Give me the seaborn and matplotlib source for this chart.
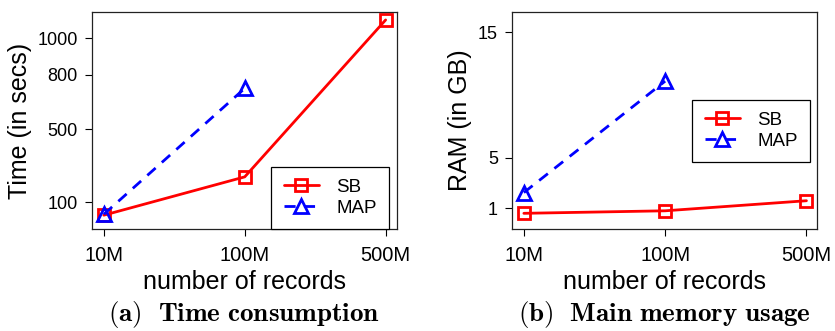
import numpy as np
import pandas as pd
import matplotlib
matplotlib.use("Agg")
import matplotlib.pyplot as plt
import seaborn as sns

# Dados
records = ["10M", "100M", "500M"]
sb_time = [30, 240, 1100]
map_time = [35, 725]
sb_ram = [0.6, 0.8, 1.6]
map_ram = [2.25, 11.1]

time_ticks = [100, 500, 800, 1000]
ram_ticks = [1, 5, 15]

sns.set_style("ticks")
plt.rcParams["font.family"] = ["Liberation Sans", "DejaVu Sans"]
plt.rcParams["mathtext.fontset"] = "cm"
plt.rcParams["text.color"] = "black"
plt.rcParams["axes.labelcolor"] = "black"
plt.rcParams["xtick.color"] = "black"
plt.rcParams["ytick.color"] = "black"

pos = np.arange(len(records))

fig = plt.figure(figsize=(8.35, 3.31), dpi=100)
ax1 = fig.add_axes([0.110, 0.308, 0.365, 0.656])
ax2 = fig.add_axes([0.613, 0.308, 0.366, 0.656])


def draw_panel(ax, sb_vals, map_vals, ticks, ylim, ylabel, legend_anchor):
    sb_df = pd.DataFrame({"x": pos[:len(sb_vals)], "y": sb_vals})
    map_df = pd.DataFrame({"x": pos[:len(map_vals)], "y": map_vals})
    sns.lineplot(data=sb_df, x="x", y="y", ax=ax, color="#ff0000", lw=2,
                 marker="s", ms=9, mfc="none", mec="#ff0000", mew=2,
                 label="SB")
    sns.lineplot(data=map_df, x="x", y="y", ax=ax, color="#0000ff", lw=2,
                 linestyle=(0, (4, 3)), marker="^", ms=10, mfc="none",
                 mec="#0000ff", mew=2, label="MAP")
    ax.set_xlim(-0.085, 2.078)
    ax.set_ylim(*ylim)
    ax.set_xticks(pos)
    ax.set_xticklabels(records)
    ax.set_yticks(ticks)
    ax.tick_params(axis="both", length=5, width=0.8, direction="out")
    ax.tick_params(axis="x", labelsize=14.5, pad=7)
    ax.tick_params(axis="y", labelsize=13, pad=5)
    ax.set_xlabel("number of records", fontsize=18, labelpad=4)
    ax.set_ylabel(ylabel, fontsize=18, labelpad=4)
    for sp in ax.spines.values():
        sp.set_visible(True)
        sp.set_color("#222222")
        sp.set_linewidth(0.9)
    leg = ax.legend(loc="lower right", bbox_to_anchor=legend_anchor,
                    borderaxespad=0, fontsize=13.5, handlelength=1.9,
                    handletextpad=0.9, labelspacing=0.2, borderpad=0.65,
                    fancybox=False, framealpha=1)
    leg.get_frame().set_edgecolor("black")
    leg.get_frame().set_linewidth(0.9)


draw_panel(ax1, sb_time, map_time, time_ticks, (-46, 1144),
           "Time (in secs)", (0.974, 0.0))
draw_panel(ax2, sb_ram, map_ram, ram_ticks, (-0.65, 16.6),
           "RAM (in GB)", (0.975, 0.309))

fig.text(0.292, 0.05, r"$\mathbf{(a)\ \ Time\ consumption}$", ha="center",
         va="center", fontsize=19.5)
fig.text(0.796, 0.05, r"$\mathbf{(b)\ \ Main\ memory\ usage}$", ha="center",
         va="center", fontsize=19.5)

fig.savefig("out.png", dpi=100)
